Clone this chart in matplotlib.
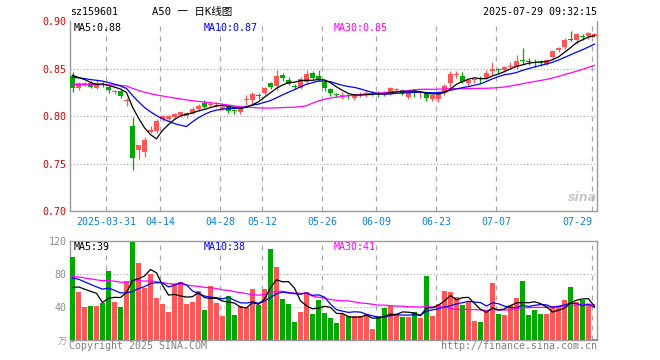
import numpy as np
import pandas as pd
import matplotlib
matplotlib.use("Agg")
import matplotlib.pyplot as plt

# ── 데이터 ─────────────────────────────────────────────────────
opens = [0.842, 0.829, 0.834, 0.835, 0.830, 0.834, 0.831, 0.825, 0.826, 0.816,
         0.790, 0.764, 0.762, 0.783, 0.784, 0.797, 0.797, 0.799, 0.801, 0.800,
         0.803, 0.807, 0.814, 0.812, 0.811, 0.807, 0.809, 0.806, 0.804, 0.817,
         0.817, 0.822, 0.824, 0.835, 0.832, 0.843, 0.838, 0.832, 0.829, 0.836,
         0.845, 0.842, 0.836, 0.828, 0.823, 0.821, 0.822, 0.819, 0.822, 0.822,
         0.823, 0.824, 0.824, 0.823, 0.827, 0.827, 0.820, 0.826, 0.824, 0.824,
         0.818, 0.818, 0.824, 0.835, 0.843, 0.842, 0.835, 0.838, 0.840, 0.840,
         0.847, 0.849, 0.848, 0.852, 0.852, 0.859, 0.858, 0.857, 0.857, 0.855,
         0.862, 0.869, 0.873, 0.881, 0.880, 0.884, 0.884, 0.884]
highs = [0.846, 0.836, 0.836, 0.837, 0.838, 0.836, 0.833, 0.827, 0.827, 0.819,
         0.799, 0.770, 0.778, 0.789, 0.797, 0.801, 0.801, 0.803, 0.805, 0.804,
         0.809, 0.813, 0.817, 0.815, 0.815, 0.812, 0.810, 0.807, 0.809, 0.822,
         0.825, 0.824, 0.831, 0.836, 0.848, 0.845, 0.841, 0.834, 0.841, 0.848,
         0.847, 0.848, 0.838, 0.830, 0.824, 0.825, 0.823, 0.823, 0.825, 0.826,
         0.826, 0.826, 0.826, 0.831, 0.830, 0.828, 0.827, 0.828, 0.826, 0.825,
         0.823, 0.826, 0.834, 0.847, 0.847, 0.846, 0.839, 0.840, 0.842, 0.848,
         0.857, 0.851, 0.853, 0.857, 0.864, 0.872, 0.861, 0.860, 0.859, 0.860,
         0.870, 0.873, 0.882, 0.889, 0.887, 0.886, 0.888, 0.887]
lows = [0.825, 0.827, 0.832, 0.829, 0.828, 0.831, 0.824, 0.823, 0.819, 0.811,
        0.743, 0.755, 0.757, 0.782, 0.782, 0.795, 0.795, 0.797, 0.799, 0.798,
        0.802, 0.805, 0.808, 0.809, 0.809, 0.806, 0.803, 0.802, 0.802, 0.812,
        0.813, 0.818, 0.822, 0.828, 0.827, 0.837, 0.833, 0.828, 0.828, 0.834,
        0.839, 0.837, 0.826, 0.821, 0.820, 0.818, 0.818, 0.817, 0.820, 0.820,
        0.821, 0.820, 0.821, 0.822, 0.825, 0.822, 0.818, 0.820, 0.819, 0.816,
        0.816, 0.815, 0.822, 0.830, 0.840, 0.835, 0.832, 0.835, 0.835, 0.839,
        0.843, 0.845, 0.846, 0.851, 0.850, 0.855, 0.854, 0.852, 0.853, 0.854,
        0.860, 0.867, 0.871, 0.879, 0.876, 0.880, 0.881, 0.883]
closes = [0.830, 0.835, 0.835, 0.831, 0.835, 0.833, 0.827, 0.826, 0.821, 0.817,
          0.756, 0.769, 0.775, 0.785, 0.795, 0.800, 0.800, 0.802, 0.804, 0.803,
          0.807, 0.811, 0.810, 0.813, 0.812, 0.810, 0.805, 0.805, 0.808, 0.818,
          0.823, 0.821, 0.829, 0.831, 0.842, 0.840, 0.834, 0.831, 0.839, 0.844,
          0.840, 0.838, 0.829, 0.824, 0.822, 0.822, 0.821, 0.822, 0.823, 0.824,
          0.824, 0.823, 0.823, 0.829, 0.828, 0.824, 0.826, 0.825, 0.825, 0.819,
          0.822, 0.825, 0.832, 0.844, 0.844, 0.836, 0.838, 0.839, 0.839, 0.845,
          0.850, 0.848, 0.852, 0.853, 0.858, 0.858, 0.857, 0.856, 0.856, 0.859,
          0.868, 0.872, 0.880, 0.880, 0.886, 0.883, 0.887, 0.886]
volumes = [100.6, 58.4, 40.2, 41.4, 41.4, 45.0, 83.7, 46.3, 40.2, 71.3,
           118.8, 93.4, 63.2, 79.4, 51.1, 43.5, 34.2, 67.3, 70.4, 43.7,
           46.3, 59.6, 36.2, 65.2, 45.0, 29.4, 53.2, 30.2, 41.1, 40.2,
           61.6, 42.3, 61.6, 110.0, 88.2, 49.5, 43.5, 22.1, 33.4, 57.6,
           31.4, 48.3, 33.0, 27.0, 20.9, 31.0, 29.0, 29.4, 29.4, 31.0,
           13.3, 29.4, 39.0, 42.3, 31.0, 27.8, 27.8, 33.4, 26.6, 77.7,
           29.4, 43.5, 59.2, 58.4, 52.3, 42.3, 45.5, 23.0, 21.7, 35.0,
           69.2, 31.4, 30.2, 42.3, 51.1, 71.3, 30.2, 36.2, 31.4, 31.0,
           40.2, 41.0, 48.3, 64.4, 46.3, 48.3, 42.3, 1.2]

# 화면 밖(이전 구간) 평균 — 첫 봉의 이동평균선 높이에서 읽음
price_prior = {5: 0.846, 10: 0.842, 30: 0.833}
vol_prior = {5: 54, 10: 72, 30: 76}

date_idx = [6, 15, 25, 32, 42, 51, 61, 71, 87]
date_labels = ["2025-03-31", "04-14", "04-28", "05-12", "05-26",
               "06-09", "06-23", "07-07", "07-29"]
price_ticks = [0.70, 0.75, 0.80, 0.85, 0.90]
vol_ticks = [40, 80, 120]

RED = "#ff5757"
GREEN = "#00a800"
GRID = "#a8a8a8"
MONO = "DejaVu Sans Mono"
FS = 7.2
W, H = 660, 360


def ma(values, n, prior):
    s = pd.Series(np.r_[np.full(n - 1, prior), values])
    return s.rolling(n).mean().to_numpy()[n - 1:]


fig = plt.figure(figsize=(W / 100, H / 100), dpi=100)
fig.patch.set_facecolor("white")


def px_axes(l, t, r, b):
    return fig.add_axes([l / W, 1 - b / H, (r - l) / W, (b - t) / H])


def ftext(x, y, s, **kw):
    kw.setdefault("fontsize", FS)
    kw.setdefault("family", MONO)
    kw.setdefault("va", "center")
    fig.text(x / W, 1 - y / H, s, **kw)


ax = px_axes(70, 21, 597, 211)
axv = px_axes(70, 240.7, 597, 340)

o = np.array(opens)
c = np.array(closes)
x = np.arange(len(c))
colors = [RED if cc >= oo else GREEN for oo, cc in zip(o, c)]
xmin, xmax = -2.5 / 6, 87 + 2.5 / 6

# ── 가격 패널 ──
ax.vlines(x, lows, highs, colors=colors, linewidth=0.9, zorder=3)
body = np.maximum(np.abs(c - o), 0.0011)
ax.bar(x, body, bottom=np.minimum(o, c), width=0.83, color=colors,
       linewidth=0, zorder=4)
for n, col in ((30, "#ff00ff"), (10, "#0000ff"), (5, "black")):
    ax.plot(x, ma(c, n, price_prior[n]), color=col, linewidth=0.9, zorder=5)

ax.set_xlim(xmin, xmax)
ax.set_ylim(0.70, 0.90)
ax.set_yticks(price_ticks)
ax.set_yticklabels([f"{t:.2f}" for t in price_ticks], family=MONO,
                   fontsize=FS, color="#e00000")
ax.set_xticks([])
ax.tick_params(axis="y", length=0, pad=2.5)
for t in price_ticks[1:-1]:
    ax.axhline(t, color=GRID, linewidth=0.8, linestyle=(0, (1, 2)), zorder=1)

for i, lb in zip(date_idx, date_labels):
    ax.annotate(lb, xy=(i - 2.5 / 6, 0), xycoords=("data", "axes fraction"),
                xytext=(0, -8), textcoords="offset points",
                ha="right" if i == date_idx[-1] else "center", va="center",
                family=MONO, fontsize=FS, color="#0a80dc")

# ── 거래량 패널 ──
axv.bar(x, volumes, width=0.83, color=colors, linewidth=0, zorder=3)
vv = np.array(volumes)
for n, col in ((30, "#ff00ff"), (10, "#0000ff"), (5, "black")):
    axv.plot(x, ma(vv, n, vol_prior[n]), color=col, linewidth=0.9, zorder=5)
axv.set_xlim(xmin, xmax)
axv.set_ylim(0, 120)
axv.set_yticks(vol_ticks)
axv.set_yticklabels([str(t) for t in vol_ticks], family=MONO, fontsize=FS,
                    color="#8c8c8c")
axv.set_xticks([])
axv.tick_params(axis="y", length=0, pad=2.5)
for t in vol_ticks[:-1]:
    axv.axhline(t, color=GRID, linewidth=0.8, linestyle=(0, (1, 2)), zorder=1)

for a in (ax, axv):
    for i in date_idx:
        a.axvline(i - 2.5 / 6, color=GRID, linewidth=0.9,
                  linestyle=(0, (4, 4)), zorder=1)
    for sp in a.spines.values():
        sp.set_color("#9a9a9a")
        sp.set_linewidth(1.0)
ax.spines["top"].set_visible(False)

# ── 텍스트 ──
ftext(70, 12, "sz159601")
ftext(152, 12, "A50 一 日K线图", family=[MONO, "Noto Sans CJK SC"], fontsize=7.6)
ftext(597, 12, "2025-07-29 09:32:15", ha="right")

ftext(74, 28, "MA5:0.88", color="black")
ftext(204, 28, "MA10:0.87", color="#0000ff")
ftext(334, 28, "MA30:0.85", color="#ff00ff")
ftext(74, 247, "MA5:39", color="black")
ftext(204, 247, "MA10:38", color="#0000ff")
ftext(334, 247, "MA30:41", color="#ff00ff")

ftext(67, 342, "万", family=["Noto Sans CJK SC"], fontsize=6.5,
      color="#9a9a9a", ha="right")
ftext(69, 346, "Copyright 2025 SINA.COM", color="#808080")
ftext(597, 346, "http://finance.sina.com.cn", color="#808080", ha="right")
ftext(582, 197, "sina", family="DejaVu Sans", fontsize=9, fontweight="bold",
      style="italic", color="#b0b0b0", alpha=0.7, ha="center")

fig.savefig("out.png", dpi=100, facecolor="white")
